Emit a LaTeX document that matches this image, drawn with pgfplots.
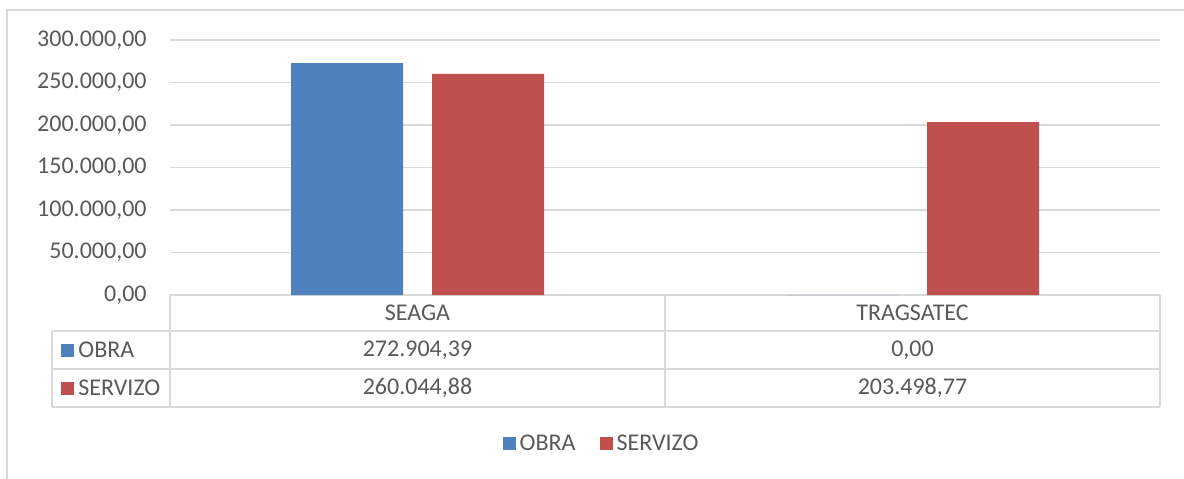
\documentclass[border=0pt]{standalone}
\usepackage{fontspec}
\setmainfont{Carlito}
\usepackage{pgfplots}
\pgfplotsset{compat=1.18}
\definecolor{obra}{HTML}{4F81BD}
\definecolor{serv}{HTML}{C0504D}
\definecolor{gridc}{HTML}{D9D9D9}
\definecolor{txt}{HTML}{595959}

\begin{document}
\begin{tikzpicture}[font=\fontsize{12}{14}\selectfont, text=txt]
% picture area in pixel units (1 px = 0.5pt, y downwards)
\begin{scope}[x=0.5pt,y=-0.5pt]
\useasboundingbox (0,0) rectangle (1184,478);
\draw[gridc, line width=0.9pt] (7,480) -- (7,10) -- (1186,10);
\end{scope}

\begin{axis}[
    at={(85pt,-147.5pt)}, anchor=south west,
    scale only axis,
    width=495pt, height=127.5pt,
    xmin=-0.5, xmax=1.5,
    ymin=0, ymax=300000,
    ytick={0,50000,100000,150000,200000,250000,300000},
    xtick=\empty,
    scaled y ticks=false,
    axis line style={draw=none},
    major tick length=0pt,
    ymajorgrids,
    grid style={gridc, line width=0.9pt},
    yticklabel style={anchor=east, inner sep=0pt, xshift=-11.5pt, text=txt,
        font=\fontsize{12}{14}\selectfont,
        /pgf/number format/.cd, fixed, fixed zerofill, precision=2,
        1000 sep={.}, dec sep={,}, assume math mode=true},
    ybar, bar width=56pt,
    legend style={at={(0.437,-0.584)}, anchor=center, draw=none,
        legend columns=2, font=\fontsize{12}{14}\selectfont, text=txt,
        /tikz/every even column/.append style={column sep=10pt}},
    legend image code/.code={\fill[#1] (0pt,-3.25pt) rectangle (6.5pt,3.25pt);},
]
\addplot[fill=obra, draw=none, bar shift=-35.25pt] coordinates {(0,272904.39) (1,0)};
\addplot[fill=serv, draw=none, bar shift=35.25pt] coordinates {(0,260044.88) (1,203498.77)};
\legend{OBRA, SERVIZO}
\end{axis}

% data table under the plot
\begin{scope}[x=0.5pt,y=-0.5pt]
\draw[gridc, line width=0.9pt]
    (52,331) -- (1160,331)
    (52,369) -- (1160,369)
    (52,407) -- (1160,407)
    (52,331) -- (52,407)
    (170,295) -- (170,407)
    (665,295) -- (665,407)
    (1160,295) -- (1160,407);
\node[inner sep=0pt] at (417.5,313) {SEAGA};
\node[inner sep=0pt] at (912.5,313) {TRAGSATEC};
\node[inner sep=0pt] at (417.5,350) {272.904,39};
\node[inner sep=0pt] at (912.5,350) {0,00};
\node[inner sep=0pt] at (417.5,388) {260.044,88};
\node[inner sep=0pt] at (912.5,388) {203.498,77};
\fill[obra] (61,344) rectangle (74,357);
\node[inner sep=0pt, anchor=west] at (78,350) {OBRA};
\fill[serv] (61,382) rectangle (74,395);
\node[inner sep=0pt, anchor=west] at (78,388) {SERVIZO};
\end{scope}
\end{tikzpicture}
\end{document}
